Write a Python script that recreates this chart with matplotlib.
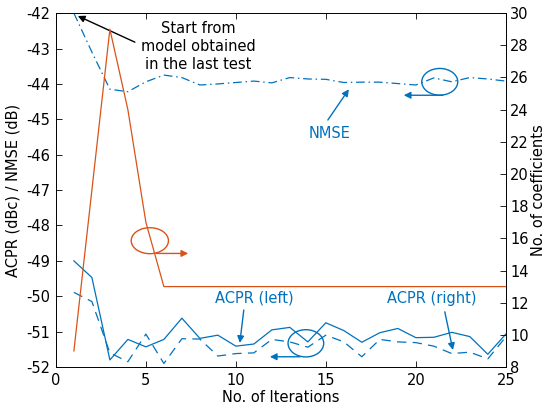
import matplotlib
matplotlib.use("Agg")
import matplotlib.pyplot as plt
from matplotlib.patches import Ellipse

plt.rcParams['font.family'] = ['DejaVu Sans']
plt.rcParams['font.size'] = 10.5
plt.rcParams['axes.unicode_minus'] = False

# iteration index
iters = list(range(1, 26))

# NMSE (dB), left axis
nmse = [-42.0, -43.1, -44.15, -44.22, -43.94, -43.75, -43.82, -44.03, -44.0, -43.96,
        -43.92, -43.97, -43.82, -43.86, -43.87, -43.96, -43.95, -43.95, -43.99, -44.03,
        -43.83, -43.94, -43.82, -43.86, -43.92]

# ACPR left (dBc), solid
acpr_left = [-49.0, -49.47, -51.8, -51.22, -51.43, -51.22, -50.62, -51.19, -51.1, -51.41,
             -51.35, -50.95, -50.88, -51.29, -50.75, -50.97, -51.3, -51.03, -50.91, -51.17,
             -51.16, -51.02, -51.14, -51.64, -51.07]

# ACPR right (dBc), dashed
acpr_right = [-49.89, -50.15, -51.6, -51.85, -51.07, -51.9, -51.2, -51.21, -51.69, -51.62,
              -51.6, -51.22, -51.29, -51.44, -51.1, -51.29, -51.71, -51.22, -51.29, -51.31,
              -51.41, -51.62, -51.58, -51.77, -51.15]

# number of coefficients, right axis
n_coef = [9, 19, 29, 24, 17, 13, 13, 13, 13, 13, 13, 13, 13, 13, 13, 13, 13, 13, 13, 13,
          13, 13, 13, 13, 13]

blue = '#0072BD'
orange = '#D95319'

fig = plt.figure(figsize=(5.48, 4.11), dpi=100)
ax = fig.add_axes([0.102, 0.107, 0.821, 0.861])
ax2 = ax.twinx()

ax.plot(iters, nmse, color=blue, lw=0.9, linestyle=(0, (7, 3, 1.2, 3)))
ax.plot(iters, acpr_left, color=blue, lw=0.9, linestyle='-')
ax.plot(iters, acpr_right, color=blue, lw=0.9, linestyle=(0, (7.5, 5)))
ax2.plot(iters, n_coef, color=orange, lw=0.9)

ax.set_xlim(0, 25)
ax.set_ylim(-52, -42)
ax2.set_ylim(8, 30)
ax.set_xticks([0, 5, 10, 15, 20, 25])
ax.set_yticks(range(-52, -41))
ax2.set_yticks(range(8, 31, 2))

ax.tick_params(axis='x', direction='in', top=True, bottom=True, length=4, width=0.6, pad=4)
ax.tick_params(axis='y', direction='in', left=True, right=False, length=4, width=0.6, pad=4)
ax2.tick_params(axis='y', direction='in', right=True, length=4, width=0.6, pad=3)
for a in (ax, ax2):
    for s in a.spines.values():
        s.set_linewidth(0.6)

ax.set_xlabel('No. of Iterations', labelpad=2)
ax.set_ylabel('ACPR (dBc) / NMSE (dB)', labelpad=4)
ax2.set_ylabel('No. of coefficients', labelpad=2)

# annotations
arr_b = dict(arrowstyle='-|>', color=blue, lw=1.0, mutation_scale=10, shrinkA=0, shrinkB=0)
arr_o = dict(arrowstyle='-|>', color=orange, lw=1.0, mutation_scale=10, shrinkA=0, shrinkB=0)
arr_k = dict(arrowstyle='-|>', color='black', lw=1.0, mutation_scale=10, shrinkA=0, shrinkB=0)

ax.text(7.89, -42.93, 'Start from\nmodel obtained\nin the last test', ha='center', va='center',
        linespacing=1.25)
ax.annotate('', xy=(1.22, -42.08), xytext=(4.39, -42.82), arrowprops=arr_k)

ax.text(15.22, -45.39, 'NMSE', color=blue, ha='center', va='center')
ax.annotate('', xy=(16.28, -44.15), xytext=(15.11, -45.02), arrowprops=arr_b)

ax.text(11.0, -50.05, 'ACPR (left)', color=blue, ha='center', va='center')
ax.annotate('', xy=(10.22, -51.32), xytext=(10.44, -50.39), arrowprops=arr_b)

ax.text(20.89, -50.05, 'ACPR (right)', color=blue, ha='center', va='center')
ax.annotate('', xy=(22.06, -51.52), xytext=(21.61, -50.44), arrowprops=arr_b)

ax.add_patch(Ellipse((21.33, -43.94), 2.0, 0.754, fill=False, ec=blue, lw=1.0))
ax.annotate('', xy=(19.33, -44.32), xytext=(21.5, -44.32), arrowprops=arr_b)

ax.add_patch(Ellipse((13.89, -51.33), 1.98, 0.77, fill=False, ec=blue, lw=1.0))
ax.annotate('', xy=(11.89, -51.71), xytext=(13.56, -51.71), arrowprops=arr_b)

ax.add_patch(Ellipse((5.22, -48.43), 2.07, 0.734, fill=False, ec=orange, lw=1.0))
ax.annotate('', xy=(7.35, -48.79), xytext=(5.59, -48.79), arrowprops=arr_o)

fig.savefig('out.png', dpi=100)
